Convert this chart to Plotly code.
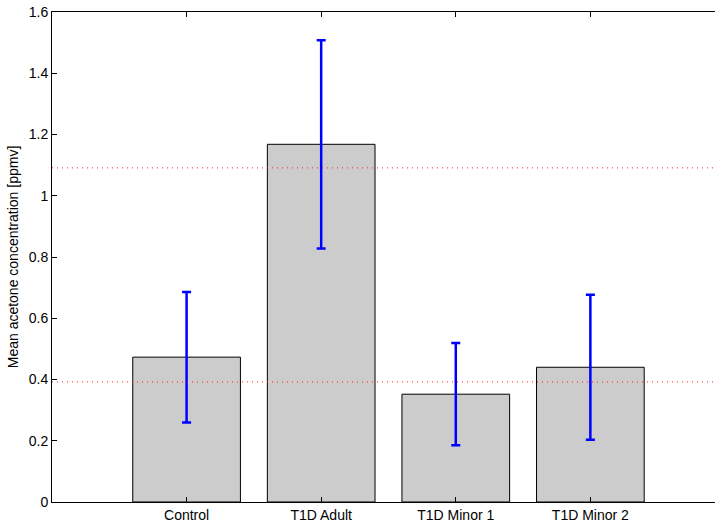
import plotly.graph_objects as go

# Group means and symmetric error half-widths (ppmv)
groups = ["Control", "T1D Adult", "T1D Minor 1", "T1D Minor 2"]
means = [0.473, 1.168, 0.352, 0.440]
errors = [0.213, 0.340, 0.167, 0.237]
# Reference threshold levels (ppmv)
thresholds = [1.091, 0.392]
y_ticks = [0, 0.2, 0.4, 0.6, 0.8, 1, 1.2, 1.4, 1.6]
positions = list(range(1, len(groups) + 1))

font = dict(family="Liberation Sans, Arial, sans-serif", size=14, color="black")

fig = go.Figure()
fig.add_trace(go.Bar(
    x=positions,
    y=means,
    width=0.8,
    marker=dict(color="#cccccc", line=dict(color="black", width=1)),
    error_y=dict(type="data", array=errors, visible=True,
                 color="blue", thickness=2.5, width=4.5),
    showlegend=False,
))

for level in thresholds:
    fig.add_hline(y=level, line=dict(color="#ff2020", width=1, dash="1px,4px"))

fig.update_layout(
    width=715, height=524,
    margin=dict(l=52, r=0, t=12, b=22),
    paper_bgcolor="white", plot_bgcolor="white",
    font=font,
    bargap=0.2,
)
fig.update_xaxes(
    range=[0, 4.926],
    tickvals=positions, ticktext=groups,
    ticks="inside", ticklen=5, tickcolor="black",
    showline=True, linecolor="black", linewidth=1, mirror="ticks",
    showgrid=False, zeroline=False,
    tickfont=font,
)
fig.update_yaxes(
    range=[0, 1.6],
    tickvals=y_ticks, ticktext=[f"{v:g}" for v in y_ticks],
    ticks="inside", ticklen=5, tickcolor="black",
    showline=True, linecolor="black", linewidth=1,
    showgrid=False, zeroline=False,
    tickfont=font,
    title=dict(text="Mean acetone concentration [ppmv]", font=font, standoff=6),
)

fig.write_html("out.html")
